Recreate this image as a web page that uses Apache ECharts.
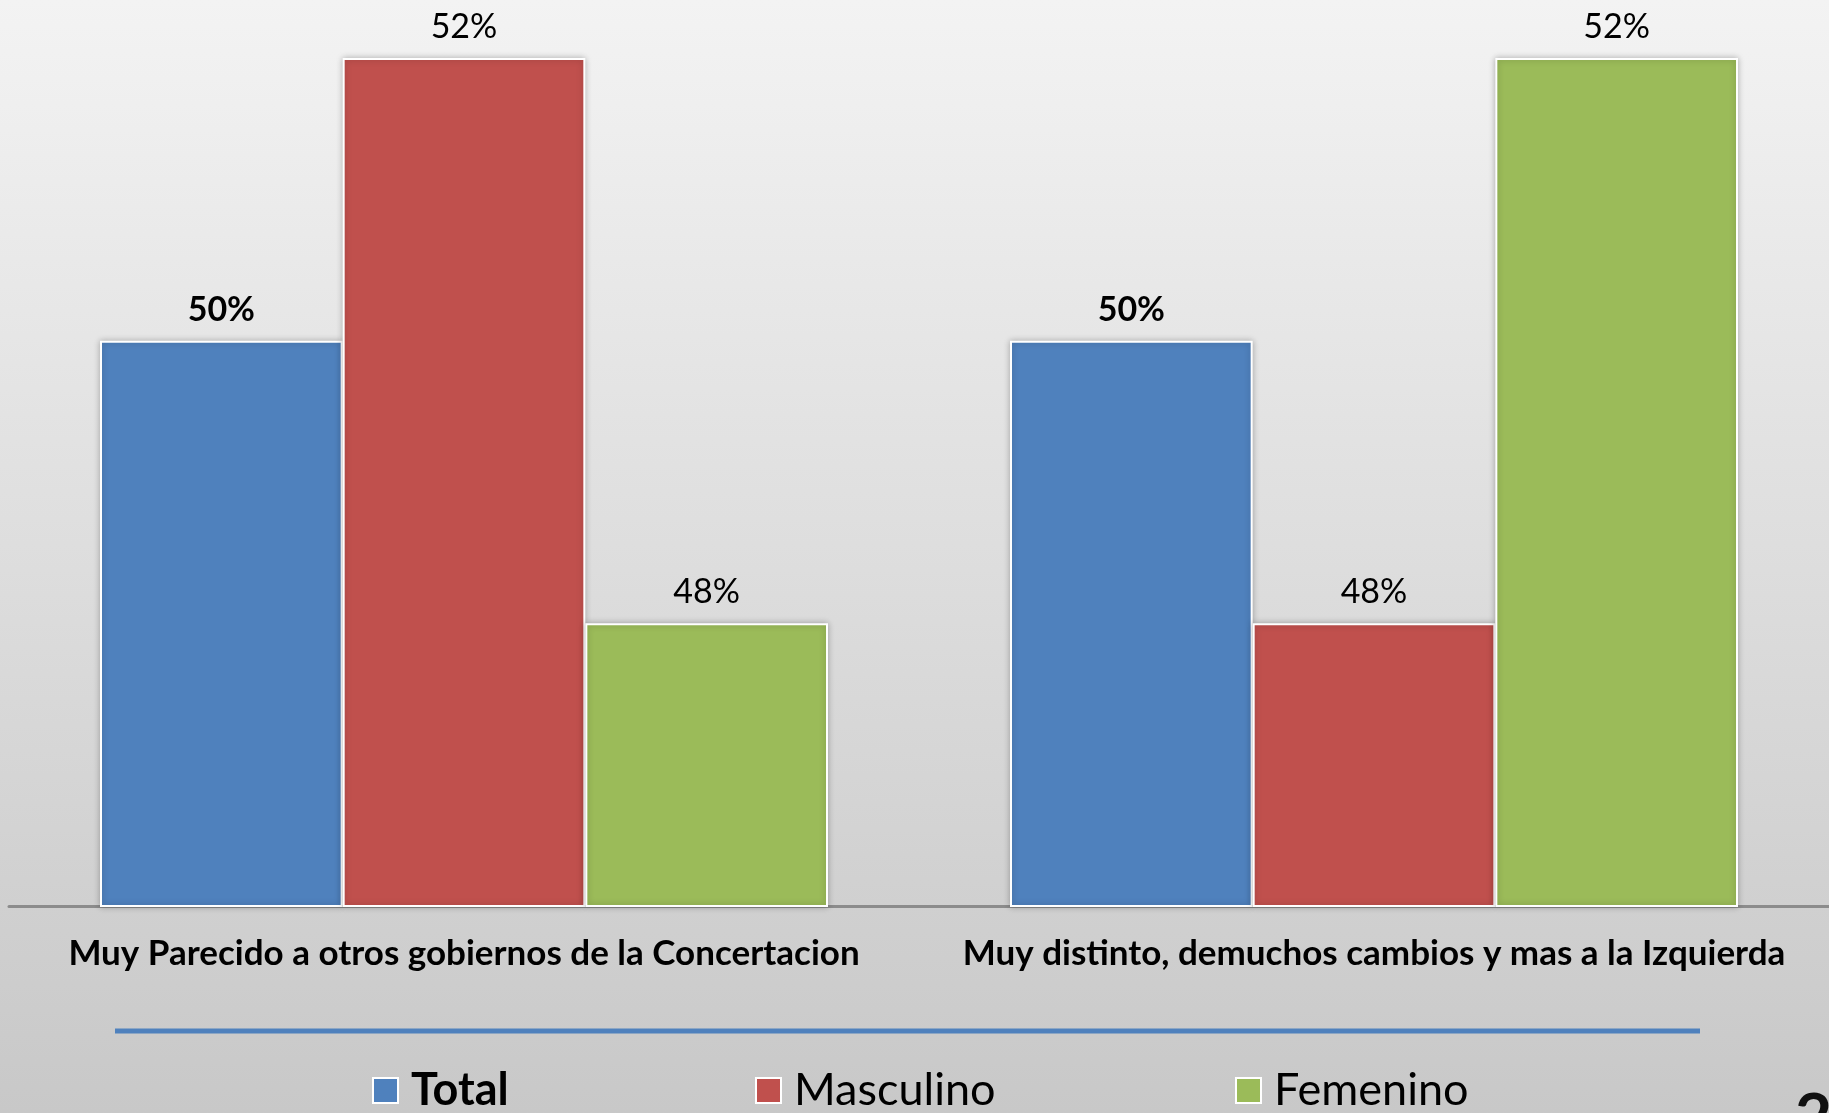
<!DOCTYPE html>
<html>
<head>
<meta charset="utf-8">
<script src="https://cdn.jsdelivr.net/npm/echarts@6/dist/echarts.min.js"></script>
<style>
  html, body { margin: 0; padding: 0; }
  #chart { width: 1829px; height: 1113px; }
</style>
</head>
<body>
<div id="chart"></div>
<script>
// datos
const categories = [
    'Muy Parecido a otros gobiernos de la Concertacion',
    'Muy distinto, demuchos cambios y mas a la Izquierda'
];
const seriesNames = ['Total', 'Masculino', 'Femenino'];
const totalValues = [50, 50];
const masculinoValues = [52, 48];
const femeninoValues = [48, 52];

const colors = ['#4F81BD', '#C0504D', '#9BBB59'];
const fontFamily = 'Lato, "Open Sans", sans-serif';

var myChart = echarts.init(document.getElementById('chart'));

function makeSeries(name, values, color, bold) {
    return {
        name: name,
        type: 'bar',
        data: values,
        barGap: '0%',
        barCategoryGap: '20%',
        itemStyle: {
            color: color,
            borderColor: '#ffffff',
            borderWidth: 2,
            shadowBlur: 6,
            shadowColor: 'rgba(0,0,0,0.25)'
        },
        label: {
            show: true,
            position: 'top',
            distance: 14,
            formatter: '{c}%',
            color: '#000',
            fontFamily: fontFamily,
            fontSize: 34,
            fontWeight: bold ? 'bold' : 'normal'
        }
    };
}

function makeLegend(name, left, bold) {
    return {
        data: [name],
        left: left,
        top: 1068,
        padding: 0,
        icon: 'rect',
        itemWidth: 25,
        itemHeight: 25,
        textStyle: {
            fontFamily: fontFamily,
            fontSize: 45,
            color: '#000',
            fontWeight: bold ? 'bold' : 'normal',
            padding: [0, 0, 0, 8]
        }
    };
}

const option = {
    backgroundColor: {
        type: 'linear', x: 0, y: 0, x2: 0, y2: 1,
        colorStops: [
            { offset: 0, color: '#f3f3f3' },
            { offset: 1, color: '#c8c8c8' }
        ]
    },
    animation: false,
    grid: { left: 9, width: 1827, top: 58, bottom: 207 },
    legend: [
        makeLegend(seriesNames[0], 372, true),
        makeLegend(seriesNames[1], 755, false),
        makeLegend(seriesNames[2], 1235, false)
    ],
    xAxis: {
        type: 'category',
        data: categories,
        axisLine: { lineStyle: { color: '#8c8c8c', width: 3 } },
        axisTick: { show: false },
        axisLabel: {
            margin: 30,
            color: '#000',
            fontFamily: fontFamily,
            fontWeight: 'bold',
            fontSize: 35,
            interval: 0
        }
    },
    yAxis: {
        type: 'value',
        min: 46,
        max: 52,
        show: false,
        splitLine: { show: false }
    },
    series: [
        makeSeries(seriesNames[0], totalValues, colors[0], true),
        makeSeries(seriesNames[1], masculinoValues, colors[1], false),
        makeSeries(seriesNames[2], femeninoValues, colors[2], false)
    ],
    graphic: [
        {
            type: 'line',
            shape: { x1: 115, y1: 1031, x2: 1700, y2: 1031 },
            style: { stroke: '#4F81BD', lineWidth: 5 }
        },
        {
            type: 'text',
            left: 1795,
            top: 1086,
            style: {
                text: '2',
                fontFamily: fontFamily,
                fontWeight: 'bold',
                fontSize: 64,
                fill: '#111'
            }
        }
    ]
};

myChart.setOption(option);

window.addEventListener('resize', function() {
    myChart.resize();
});
</script>
</body>
</html>
